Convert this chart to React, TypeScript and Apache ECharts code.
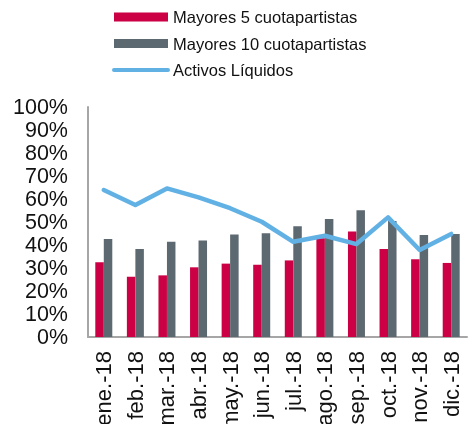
import React, { useEffect, useRef } from "react";
import * as echarts from "echarts";

const categories = ["ene.-18", "feb.-18", "mar.-18", "abr.-18", "may.-18", "jun.-18", "jul.-18", "ago.-18", "sep.-18", "oct.-18", "nov.-18", "dic.-18"];
const mayores5 = [32.5, 26.2, 26.8, 30.3, 31.9, 31.4, 33.3, 42.9, 45.9, 38.3, 33.8, 32.2];
const mayores10 = [42.6, 38.3, 41.4, 42.0, 44.6, 45.1, 48.1, 51.3, 55.1, 50.4, 44.3, 44.8];
const activosLiquidos = [63.9, 57.4, 64.6, 60.7, 56.0, 50.1, 41.4, 44.0, 40.4, 52.0, 37.8, 44.8];
const seriesNames = ["Mayores 5 cuotapartistas", "Mayores 10 cuotapartistas", "Activos Líquidos"];

export default function App() {
  const ref = useRef<HTMLDivElement>(null);
  useEffect(() => {
    if (!ref.current) return;
    const chart = echarts.init(ref.current, undefined, { renderer: "svg" });
    const font = "'Liberation Sans', Arial, sans-serif";
    chart.setOption({
      animation: false,
      textStyle: { fontFamily: font },
      legend: {
        orient: "vertical",
        left: 107,
        top: 3,
        itemWidth: 54,
        itemHeight: 9,
        itemGap: 8.5,
        data: [
          { name: seriesNames[0], icon: "rect" },
          { name: seriesNames[1], icon: "rect" },
          { name: seriesNames[2], itemStyle: { opacity: 0 }, lineStyle: { width: 4, cap: "round", opacity: 1 } },
        ],
        textStyle: { fontSize: 16.5, color: "#111", fontFamily: font, lineHeight: 18 },
      },
      grid: { left: 88, right: 1, top: 107, bottom: 87, containLabel: false, outerBoundsMode: "none" },
      xAxis: {
        type: "category",
        data: categories,
        axisLine: { show: true, lineStyle: { color: "#a6a6a6", width: 2 } },
        axisTick: { show: false },
        axisLabel: { rotate: 90, fontSize: 22, color: "#111", margin: 14, fontFamily: font, interval: 0 },
      },
      yAxis: {
        type: "value",
        min: 0,
        max: 100,
        interval: 10,
        axisLine: { show: true, lineStyle: { color: "#a6a6a6", width: 2 } },
        axisTick: { show: false },
        splitLine: { show: false },
        axisLabel: { formatter: "{value}%", fontSize: 21.5, lineHeight: 20, color: "#111", margin: 20, fontFamily: font },
      },
      series: [
        {
          name: seriesNames[0],
          type: "bar",
          data: mayores5,
          barWidth: 8.5,
          barGap: "0%",
          itemStyle: { color: "#cc0044" },
        },
        {
          name: seriesNames[1],
          type: "bar",
          data: mayores10,
          barWidth: 8.5,
          barGap: "0%",
          itemStyle: { color: "#5d6970" },
        },
        {
          name: seriesNames[2],
          type: "line",
          data: activosLiquidos,
          symbol: "none",
          lineStyle: { color: "#62b1e5", width: 4.5, cap: "round", join: "round" },
          itemStyle: { color: "#62b1e5" },
          z: 5,
        },
      ],
    });
    return () => chart.dispose();
  }, []);
  return <div ref={ref} style={{ position: "fixed", left: 0, top: 0, width: 468, height: 424 }} />;
}
